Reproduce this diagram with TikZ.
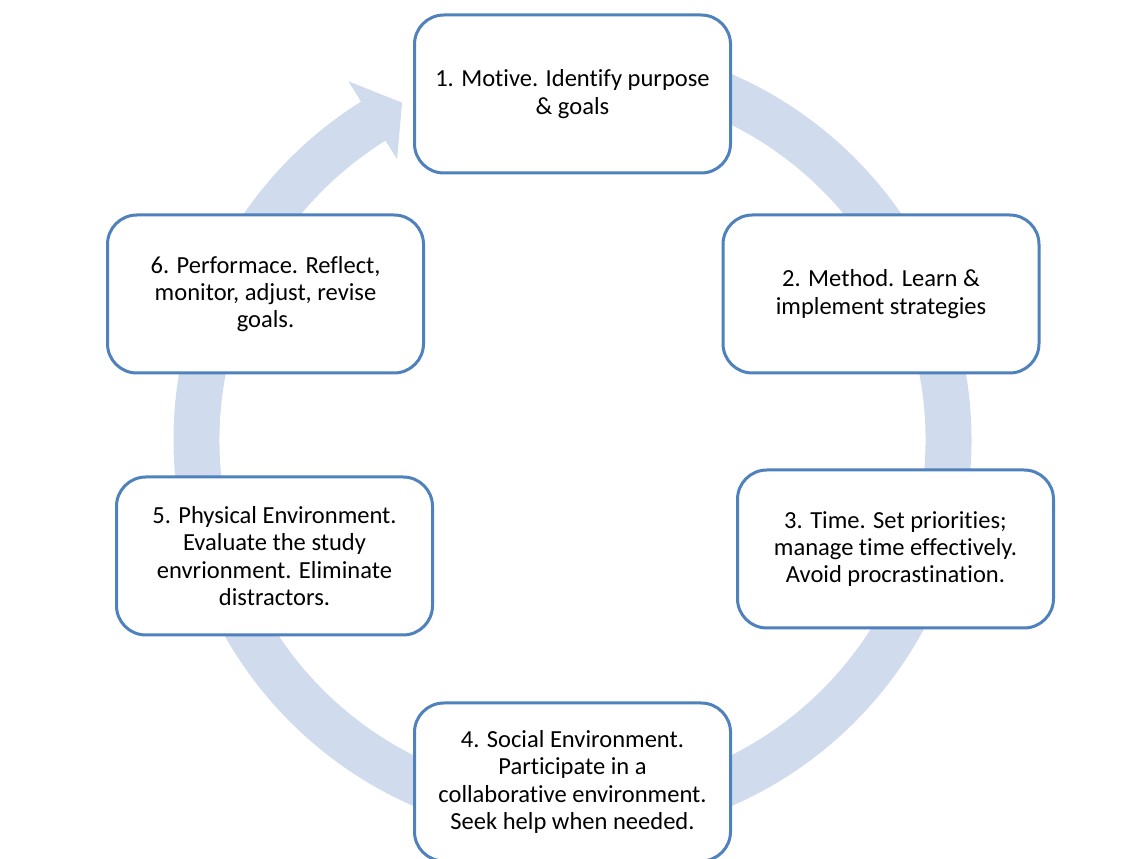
\documentclass[tikz,border=0pt]{standalone}
\usepackage{fontspec}
\setmainfont{Carlito}[Ligatures=NoCommon]
\usepackage{tikz}
\usetikzlibrary{positioning}
\definecolor{boxblue}{RGB}{79,129,189}
\definecolor{ringblue}{RGB}{208,220,238}

\begin{document}
\begin{tikzpicture}[
  x=0.75pt, y=0.75pt,
  every node/.style={font=\fontsize{18.4}{20.4}\selectfont},
  cyclebox/.style={draw=boxblue, line width=2.25pt, fill=white, rounded corners=22pt,
    align=center, minimum width=237pt, minimum height=118.5pt, inner sep=2pt}
]
\clip (0,0) rectangle (1140,858);
% ring arrow behind the steps
\begin{scope}[shift={(572.5,418)}]
\fill[ringblue] (95:399) arc[start angle=95, end angle=-238, radius=399]
  -- (-238:423) -- (-243.2:378) -- (-238:331) -- (-238:353)
  arc[start angle=-238, end angle=95, radius=353] -- cycle;
\end{scope}
% steps
\node[cyclebox] (motive) at (572.5,764) {1. Motive. Identify purpose\\ \& goals};
\node[cyclebox] (method) at (881,564) {2. Method. Learn \&\\ implement strategies};
\node[cyclebox] (timing) at (895.5,309) {3. Time. Set priorities;\\ manage time effectively.\\ Avoid procrastination.};
\node[cyclebox] (social) at (572.5,76) {4. Social Environment.\\ Participate in a\\ collaborative environment.\\ Seek help when needed.};
\node[cyclebox] (physical) at (274.5,302) {5. Physical Environment.\\ Evaluate the study\\ envrionment. Eliminate\\ distractors.};
\node[cyclebox] (perform) at (265.5,564) {6. Performace. Reflect,\\ monitor, adjust, revise\\ goals.};
\end{tikzpicture}
\end{document}
